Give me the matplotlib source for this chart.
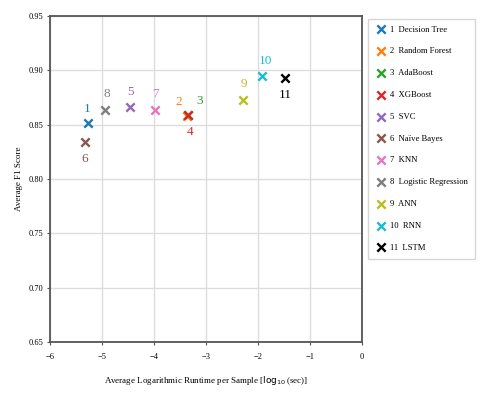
import matplotlib
matplotlib.use("Agg")
import matplotlib.pyplot as plt

# Model results
model_ids = ["1", "2", "3", "4", "5", "6", "7", "8", "9", "10", "11"]
model_names = ["Decision Tree", "Random Forest", "AdaBoost", "XGBoost", "SVC",
               "Naïve Bayes", "KNN", "Logistic Regression", "ANN", "RNN", "LSTM"]
runtime = [-5.28, -3.36, -3.34, -3.34, -4.46, -5.33, -3.98, -4.94, -2.28, -1.93, -1.48]
f1_score = [0.852, 0.858, 0.859, 0.859, 0.866, 0.834, 0.864, 0.864, 0.873, 0.895, 0.893]
colors = ["tab:blue", "tab:orange", "tab:green", "tab:red", "tab:purple", "tab:brown",
          "tab:pink", "tab:gray", "tab:olive", "tab:cyan", "black"]

# where each number label sits relative to its marker (points)
label_offsets = [(0, 10), (-6, 10), (8, 10), (1, -12), (0, 11), (0, -12),
                 (0, 11), (1, 11), (0, 11), (3, 11), (0, -12)]

plt.rcParams["font.family"] = ["Liberation Serif", "DejaVu Serif"]

fig = plt.figure(figsize=(4.82, 3.93), dpi=100)
ax = fig.add_axes([0.104, 0.130, 0.647, 0.829])

for i in range(len(model_ids)):
    ax.scatter(runtime[i], f1_score[i], marker="x", s=36, linewidths=1.7,
               color=colors[i], label=f"{model_ids[i]}  {model_names[i]}", zorder=3)
    ax.annotate(model_ids[i], (runtime[i], f1_score[i]), textcoords="offset points",
                xytext=label_offsets[i], ha="center", va="center",
                color=colors[i], fontsize=9.5)

ax.set_xlim(-6, 0)
ax.set_ylim(0.65, 0.95)
ax.set_xticks(range(-6, 1))
ax.set_yticks([0.65, 0.70, 0.75, 0.80, 0.85, 0.90, 0.95])
ax.set_yticklabels(["0.65", "0.70", "0.75", "0.80", "0.85", "0.90", "0.95"])
ax.tick_params(axis="x", labelsize=6, length=2, color="#555555", pad=6)
ax.tick_params(axis="y", labelsize=6, length=2, color="#555555", pad=3)
ax.grid(True, color="#dddddd", linewidth=1)
ax.set_axisbelow(True)
for side in ax.spines.values():
    side.set_color("#555555")
    side.set_linewidth(1.3)

ax.set_xlabel(r"Average Logarithmic Runtime per Sample [$\log_{10}$(sec)]",
              fontsize=6.5, labelpad=9)
ax.set_ylabel("Average F1 Score", fontsize=6.5)

ax.legend(loc="upper left", bbox_to_anchor=(1.012, 1.0), fontsize=6.2,
          frameon=True, edgecolor="#cccccc", fancybox=False,
          labelspacing=1.6, handletextpad=0.3, handlelength=1.4,
          borderpad=0.8, borderaxespad=0.3, scatterpoints=1)

fig.savefig("out.png", dpi=100)
